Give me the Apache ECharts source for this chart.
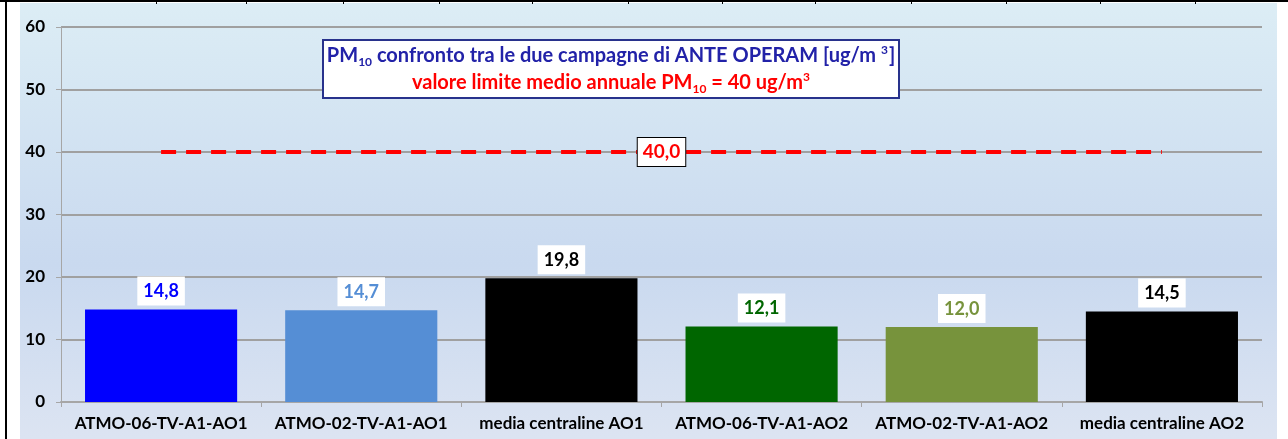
<!DOCTYPE html>
<html>
<head>
<meta charset="utf-8">
<script src="https://cdn.jsdelivr.net/npm/echarts@6/dist/echarts.min.js"></script>
<style>
  html, body { margin: 0; padding: 0; background: #fff; width: 1288px; height: 439px; overflow: hidden; }
  #wrap { position: relative; width: 1288px; height: 439px; }
  #chart { position: absolute; left: 20px; top: 3px; width: 1257px; height: 436px; }
  .topline { position: absolute; left: 0; top: 0; width: 1288px; height: 2px; background: #000; }
  .leftline { position: absolute; left: 5px; top: 0; width: 2px; height: 439px; background: #000; }
  .tick { position: absolute; top: 0; width: 1px; height: 4px; background: #000; }
</style>
</head>
<body>
<div id="wrap">
  <div id="chart"></div>
  <div class="topline"></div>
  <div class="leftline"></div>
</div>
<script>
// ---- data ----
const categories = ['ATMO-06-TV-A1-AO1', 'ATMO-02-TV-A1-AO1', 'media centraline AO1', 'ATMO-06-TV-A1-AO2', 'ATMO-02-TV-A1-AO2', 'media centraline AO2'];
const values = [14.8, 14.7, 19.8, 12.1, 12.0, 14.5];
const barColors = ['#0000FF', '#558ED5', '#000000', '#006600', '#77933C', '#000000'];
const limitValue = 40;
const yMin = 0, yMax = 60, yInterval = 10;

// decorative document table border ticks
const tableTickX = [156, 246, 343, 439, 532, 628, 722, 815, 911, 1006, 1100, 1195];
const wrap = document.getElementById('wrap');
tableTickX.forEach(function (x) {
  const d = document.createElement('div');
  d.className = 'tick';
  d.style.left = x + 'px';
  wrap.appendChild(d);
});

const fmt = v => v.toFixed(1).replace('.', ',');
const FONT = 'Lato';

const chart = echarts.init(document.getElementById('chart'), null, { renderer: 'canvas' });
chart.setOption({
  animation: false,
  backgroundColor: new echarts.graphic.LinearGradient(0, 0, 0, 1, [
    { offset: 0, color: '#DCEDF5' },
    { offset: 0.6, color: '#C9D9EF' },
    { offset: 1, color: '#DCE4F2' }
  ]),
  textStyle: { fontFamily: FONT },
  title: {
    left: 587, top: 37,
    textAlign: 'center',
    backgroundColor: '#fff',
    borderColor: '#28328C',
    borderWidth: 2,
    padding: [2, 4, 2, 4],
    text: '{b|PM}{bs|10}{b| confronto tra le due campagne di ANTE OPERAM [ug/m }{bp|3}{b|]}\n{r|valore limite medio annuale PM}{rs|10}{r| = 40 ug/m}{rp|3}',
    textStyle: {
      rich: {
        b: { fontFamily: FONT, fontWeight: 'bold', fontSize: 20, color: '#2222A8', lineHeight: 27, verticalAlign: 'middle' },
        bs: { fontFamily: FONT, fontWeight: 'bold', fontSize: 12, color: '#2222A8', lineHeight: 14, verticalAlign: 'bottom', padding: [0, 0, 1, 0] },
        bp: { fontFamily: FONT, fontWeight: 'bold', fontSize: 12, color: '#2222A8', lineHeight: 14, verticalAlign: 'top', padding: [2, 1, 0, 0] },
        r: { fontFamily: FONT, fontWeight: 'bold', fontSize: 20, color: '#FF0000', lineHeight: 27, verticalAlign: 'middle' },
        rs: { fontFamily: FONT, fontWeight: 'bold', fontSize: 12, color: '#FF0000', lineHeight: 14, verticalAlign: 'bottom', padding: [0, 0, 1, 0] },
        rp: { fontFamily: FONT, fontWeight: 'bold', fontSize: 12, color: '#FF0000', lineHeight: 14, verticalAlign: 'top', padding: [2, 0, 0, 0] }
      }
    }
  },
  grid: { left: 41, right: 15, top: 24, bottom: 37, containLabel: false },
  xAxis: {
    type: 'category',
    data: categories,
    axisLine: { lineStyle: { color: '#A6A6A6', width: 2 } },
    axisTick: { show: true, alignWithLabel: false, length: 5, lineStyle: { color: '#A6A6A6', width: 1 } },
    axisLabel: { interval: 0, hideOverlap: false, color: '#000', fontFamily: FONT, fontWeight: 'bold', fontSize: 17, margin: 13 }
  },
  yAxis: {
    type: 'value',
    min: yMin, max: yMax, interval: yInterval,
    axisLine: { show: true, lineStyle: { color: '#A6A6A6', width: 1 } },
    axisTick: { show: true, length: 5, lineStyle: { color: '#A6A6A6' } },
    axisLabel: { color: '#000', fontFamily: FONT, fontWeight: 'bold', fontSize: 17, margin: 16 },
    splitLine: { lineStyle: { color: '#A0A0A0', width: 2 } }
  },
  series: [{
    type: 'bar',
    barWidth: '76%',
    data: values.map((v, i) => ({
      value: v,
      itemStyle: { color: barColors[i] },
      label: { color: barColors[i] }
    })),
    label: {
      show: true,
      position: 'top',
      distance: 4,
      formatter: p => fmt(p.value),
      fontFamily: FONT, fontWeight: 'bold', fontSize: 18,
      backgroundColor: '#fff',
      padding: [6, 6, 5, 6]
    },
    markLine: {
      silent: true,
      symbol: ['none', 'none'],
      lineStyle: { color: '#FF0000', type: [15, 10], width: 4, cap: 'butt' },
      label: {
        show: true,
        position: 'insideMiddle',
        distance: 0,
        formatter: fmt(limitValue),
        color: '#FF0000',
        fontFamily: FONT, fontWeight: 'bold', fontSize: 19,
        backgroundColor: '#fff',
        borderColor: '#000', borderWidth: 1,
        padding: [5, 5, 4, 5]
      },
      data: [[{ xAxis: categories[0], yAxis: limitValue }, { xAxis: categories[categories.length - 1], yAxis: limitValue }]]
    }
  }]
});
</script>
</body>
</html>
